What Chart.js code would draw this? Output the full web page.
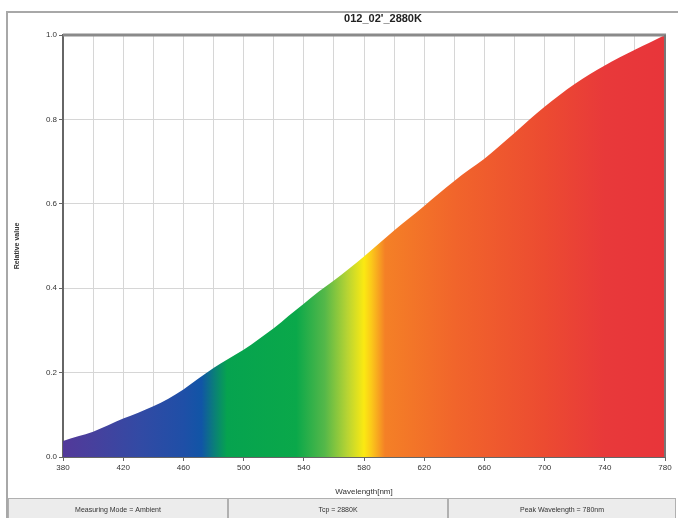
<!DOCTYPE html>
<html><head><meta charset="utf-8">
<script src="https://cdn.jsdelivr.net/npm/chart.js@4/dist/chart.umd.min.js"></script>
<style>html,body{margin:0;padding:0;background:#fff}#wrap{position:relative;width:678px;height:518px}</style>
</head><body><div id="wrap"><canvas id="c"></canvas></div>
<script>
// ---- data ----
const wavelengths = [380,390,400,410,420,430,440,450,460,470,480,490,500,510,520,530,540,550,560,570,580,590,600,610,620,630,640,650,660,670,680,690,700,710,720,730,740,750,760,770,780];
const relativeValues = [0.038,0.049,0.060,0.075,0.091,0.105,0.120,0.138,0.160,0.186,0.211,0.233,0.254,0.279,0.305,0.335,0.363,0.392,0.418,0.446,0.475,0.506,0.537,0.566,0.595,0.625,0.654,0.681,0.707,0.737,0.768,0.800,0.830,0.858,0.884,0.907,0.928,0.947,0.965,0.982,1.000];
const xTickLabels = ['380','420','460','500','540','580','620','660','700','740','780'];
const yTickLabels = ['0.0','0.2','0.4','0.6','0.8','1.0'];
const chartTitle = "012_02'_2880K";
const xAxisTitle = 'Wavelength[nm]';
const yAxisTitle = 'Relative value';
const statusCells = ['Measuring Mode = Ambient','Tcp = 2880K','Peak Wavelength = 780nm'];

// ---- styles ----
const spectrumStops = [[380,'#52399a'],[400,'#47409d'],[430,'#334aa4'],[460,'#1f4fa7'],[472,'#1155a6'],[481,'#0a8176'],[489,'#06a34f'],[535,'#0aa84a'],[554,'#55b849'],[569,'#b8d433'],[580,'#fbe912'],[585,'#fbc81a'],[594,'#f48026'],[640,'#f1652b'],[700,'#ec4b31'],[740,'#e8393a'],[780,'#e8353a']];
const FONT = '"Liberation Sans", Arial, sans-serif';

const framePlugin = {
  id: 'frame',
  beforeDraw(chart) {
    const c = chart.ctx;
    c.save();
    c.fillStyle = '#fff';
    c.fillRect(0, 0, chart.width, chart.height);
    c.strokeStyle = '#a8a8a8';
    c.lineWidth = 2;
    c.beginPath();
    c.moveTo(7, 530); c.lineTo(7, 12); c.lineTo(690, 12);
    c.stroke();
    c.restore();
  },
  afterDraw(chart) {
    const c = chart.ctx, a = chart.chartArea;
    c.save();
    c.strokeStyle = '#8a8a8a';
    c.lineWidth = 3;
    c.beginPath(); c.moveTo(a.left, a.top); c.lineTo(a.right + 1, a.top); c.stroke();
    c.strokeStyle = '#777';
    c.lineWidth = 2;
    c.beginPath(); c.moveTo(a.right, a.top); c.lineTo(a.right, a.bottom); c.stroke();
    c.fillStyle = '#222';
    c.font = 'bold 11px ' + FONT;
    c.textAlign = 'center';
    c.textBaseline = 'middle';
    c.fillText(chartTitle, 383, 19);
    const y0 = 498, h = 20;
    const cells = [[8, 228], [228, 448], [448, 676]];
    c.fillStyle = '#ececec';
    c.fillRect(8, y0, 668, h);
    c.strokeStyle = '#b0b0b0';
    c.lineWidth = 1;
    cells.forEach(([x0, x1], i) => {
      c.strokeRect(x0 + 0.5, y0 + 0.5, x1 - x0 - 1, h);
      c.fillStyle = '#333';
      c.font = '7px ' + FONT;
      c.fillText(statusCells[i], (x0 + x1) / 2, y0 + 12);
    });
    c.restore();
  }
};

new Chart(document.getElementById('c'), {
  type: 'line',
  data: {
    datasets: [{
      data: wavelengths.map((w, i) => ({ x: w, y: relativeValues[i] })),
      fill: 'origin',
      borderWidth: 0,
      borderColor: 'rgba(0,0,0,0)',
      pointRadius: 0,
      cubicInterpolationMode: 'monotone',
      backgroundColor: (ctx) => {
        const chart = ctx.chart;
        if (!chart.chartArea) return '#e8353a';
        const sx = chart.scales.x;
        const x0 = sx.getPixelForValue(wavelengths[0]);
        const x1 = sx.getPixelForValue(wavelengths[wavelengths.length - 1]);
        const g = chart.ctx.createLinearGradient(x0, 0, x1, 0);
        spectrumStops.forEach(([nm, col]) => g.addColorStop((nm - 380) / 400, col));
        return g;
      }
    }]
  },
  options: {
    responsive: true,
    maintainAspectRatio: false,
    animation: false,
    devicePixelRatio: 1,
    layout: { padding: { left: 0, right: 13, top: 35, bottom: 21 } },
    plugins: { legend: { display: false }, tooltip: { enabled: false }, title: { display: false } },
    scales: {
      x: {
        type: 'linear',
        min: 380, max: 780,
        afterBuildTicks: (s) => {
          const t = [];
          for (let v = 380; v <= 780; v += 20) t.push({ value: v });
          s.ticks = t;
        },
        afterFit: (s) => { s.height = 40; },
        ticks: {
          autoSkip: false, maxRotation: 0, padding: 2,
          color: '#333', font: { family: FONT, size: 8 },
          callback: (v) => xTickLabels.includes(String(v)) ? String(v) : ''
        },
        grid: {
          color: '#d6d6d6', lineWidth: 1, drawTicks: true, tickLength: 4,
          tickColor: (ctx) => xTickLabels.includes(String(ctx.tick && ctx.tick.value)) ? '#666' : 'rgba(0,0,0,0)'
        },
        border: { display: true, color: '#666', width: 2 },
        title: { display: true, text: xAxisTitle, color: '#333', font: { family: FONT, size: 8 }, padding: { top: 8, bottom: 0 } }
      },
      y: {
        min: 0, max: 1,
        afterBuildTicks: (s) => { s.ticks = yTickLabels.map((l) => ({ value: parseFloat(l) })); },
        afterFit: (s) => { s.width = 63; },
        ticks: {
          padding: 2, color: '#333', font: { family: FONT, size: 8 },
          callback: (v) => yTickLabels.find((l) => Math.abs(parseFloat(l) - v) < 1e-9) || ''
        },
        grid: { color: '#d6d6d6', lineWidth: 1, drawTicks: true, tickLength: 4, tickColor: '#666' },
        border: { display: true, color: '#666', width: 2 },
        title: { display: true, text: yAxisTitle, color: '#333', font: { family: FONT, size: 7, weight: 'bold' }, padding: { top: 13, bottom: 0 } }
      }
    }
  },
  plugins: [framePlugin]
});
</script>
</body></html>
